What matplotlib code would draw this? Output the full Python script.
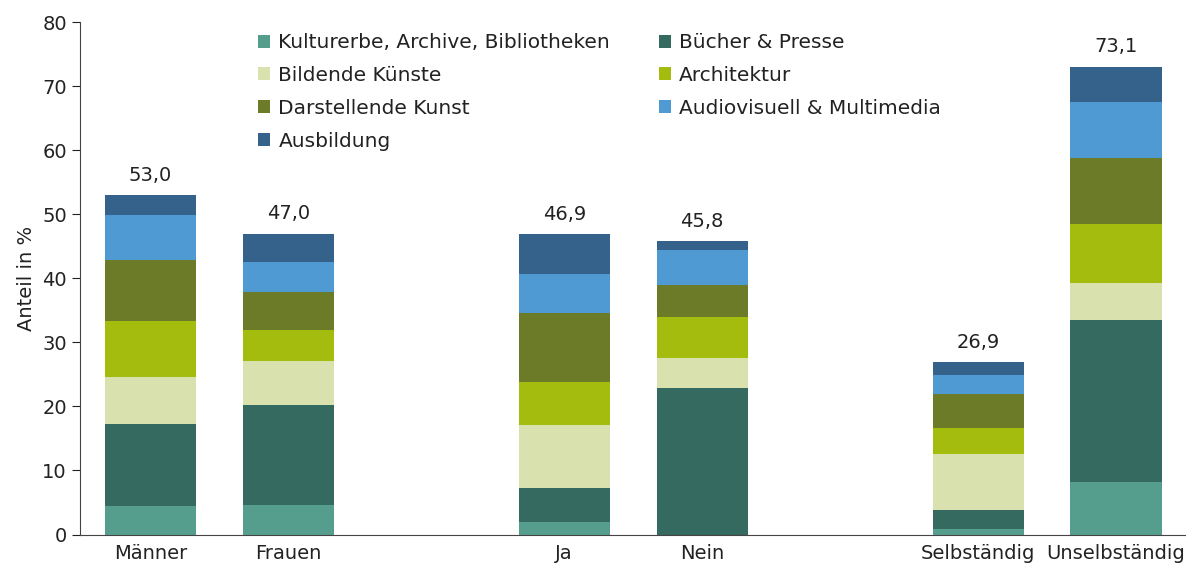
import matplotlib
matplotlib.use("Agg")
import matplotlib.pyplot as plt
from matplotlib.patches import Patch
import numpy as np

categories = ["Männer", "Frauen", "Ja", "Nein", "Selbständig", "Unselbständig"]
series_names = ["Kulturerbe, Archive, Bibliotheken", "Bücher & Presse", "Bildende Künste",
                "Architektur", "Darstellende Kunst", "Audiovisuell & Multimedia", "Ausbildung"]
kulturerbe   = [4.4, 4.6, 1.9, 0.0, 0.9, 8.2]
buecher      = [12.8, 15.6, 5.3, 22.9, 2.9, 25.3]
bildende     = [7.4, 6.9, 9.9, 4.6, 8.8, 5.8]
architektur  = [8.7, 4.8, 6.8, 6.5, 4.1, 9.2]
darstellende = [9.6, 6.0, 10.7, 4.9, 5.3, 10.3]
audiovisuell = [7.0, 4.6, 6.1, 5.6, 2.9, 8.8]
ausbildung   = [3.1, 4.5, 6.2, 1.3, 2.0, 5.5]
totals       = [53.0, 47.0, 46.9, 45.8, 26.9, 73.1]

colors = ["#559E8E", "#356A60", "#D9E2AE", "#A4BC0E", "#6B7B27", "#509AD4", "#35628A"]

plt.rcParams['font.family'] = ['DejaVu Sans']
FS = 14
TXT = "#222222"

fig = plt.figure(figsize=(11.9, 5.67), dpi=100)
ax = fig.add_axes([0.0672, 0.0573, 0.9286, 0.9032])

positions = np.array([0, 1, 3, 4, 6, 7], dtype=float)
data = [kulturerbe, buecher, bildende, architektur, darstellende, audiovisuell, ausbildung]
bottom = np.zeros(len(categories))
for vals, col, name in zip(data, colors, series_names):
    ax.bar(positions, vals, bottom=bottom, width=0.66, color=col, label=name, linewidth=0)
    bottom += np.array(vals)

for x, t in zip(positions, totals):
    ax.text(x, t + 1.6, f"{t:.1f}".replace(".", ","), ha="center", va="bottom",
            fontsize=FS, color=TXT)

ax.set_xlim(-0.51, 7.5)
ax.set_ylim(0, 80)
ax.set_yticks(range(0, 81, 10))
ax.set_xticks(positions)
ax.set_xticklabels(categories)
ax.tick_params(axis='x', length=0, labelsize=FS, pad=7, colors=TXT)
ax.tick_params(axis='y', length=6, labelsize=FS, colors=TXT, direction='out')
for s in ["top", "right"]:
    ax.spines[s].set_visible(False)
ax.spines["left"].set_color("#444444")
ax.spines["bottom"].set_color("#444444")
ax.set_ylabel("Anteil in %", fontsize=FS, color=TXT, labelpad=4)

order = [0, 2, 4, 6, 1, 3, 5]
handles = [Patch(facecolor=colors[i], label=series_names[i]) for i in order]
leg = ax.legend(handles=handles, ncol=2, loc="upper left", bbox_to_anchor=(0.161, 0.979),
                frameon=False, fontsize=14.5, handlelength=0.62, handleheight=0.62,
                handletextpad=0.4, columnspacing=2.4, labelspacing=0.69,
                borderpad=0, borderaxespad=0)
for t in leg.get_texts():
    t.set_color(TXT)

fig.savefig("out.png", dpi=100)
